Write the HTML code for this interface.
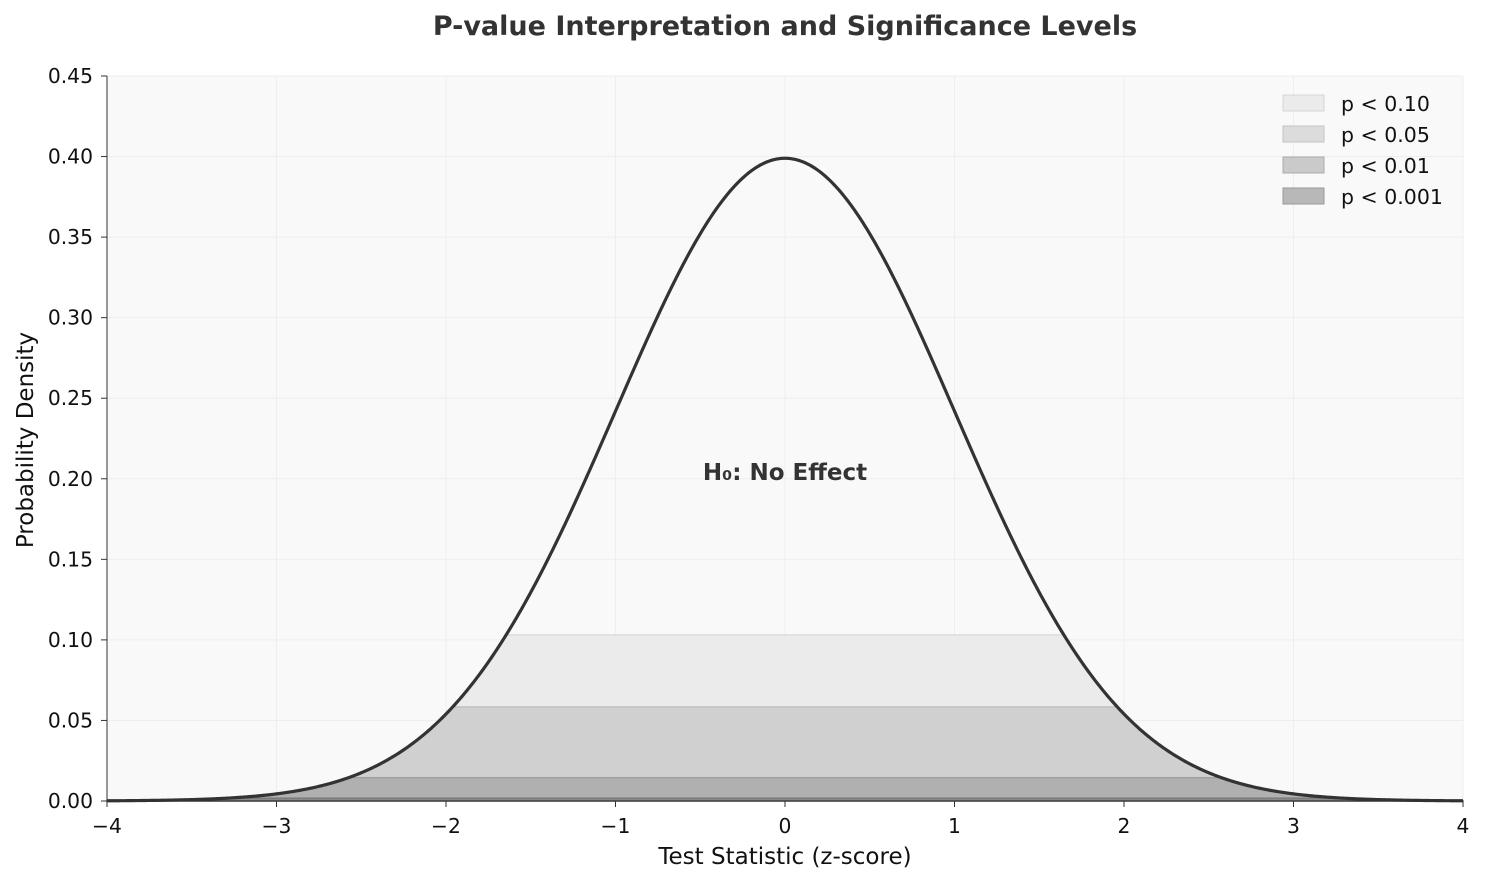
<!DOCTYPE html>
<html><head><meta charset="utf-8"><style>
html,body{margin:0;padding:0;background:#fff;}
svg text{font-family:"DejaVu Sans","Liberation Sans",sans-serif;fill:#111;}
</style></head><body>
<svg id="s" width="1485" height="883" viewBox="0 0 1485 883" xmlns="http://www.w3.org/2000/svg">
<rect x="0" y="0" width="1485" height="883" fill="#fff"/>
<rect x="107" y="76" width="1356" height="725" fill="#f9f9f9"/>
<g id="grid" stroke="#eeeeee" stroke-width="1"></g>
<g id="bands"></g>
<path id="curve" fill="none" stroke="#333" stroke-width="3.2"/>
<line x1="107" y1="76" x2="107" y2="801" stroke="#333" stroke-width="1"/>
<line x1="107" y1="801" x2="1463" y2="801" stroke="#333" stroke-width="1.2"/>
<g id="ticks" stroke="#333" stroke-width="1"></g>
<g id="labels" font-size="20.3"></g>
<text x="785" y="35" text-anchor="middle" font-size="27" font-weight="bold" style="fill:#333">P-value Interpretation and Significance Levels</text>
<text x="785" y="864" text-anchor="middle" font-size="23">Test Statistic (z-score)</text>
<text transform="translate(33,440) rotate(-90)" text-anchor="middle" font-size="23">Probability Density</text>
<text x="785" y="480" text-anchor="middle" font-size="23" font-weight="bold" style="fill:#333">H₀: No Effect</text>
<g font-size="20.5">
<rect x="1283" y="95" width="41" height="16" fill="#ebebeb" stroke="#d5d5d5"/>
<text x="1341" y="111">p &lt; 0.10</text>
<rect x="1283" y="126" width="41" height="16" fill="#dcdcdc" stroke="#c2c2c2"/>
<text x="1341" y="142">p &lt; 0.05</text>
<rect x="1283" y="157" width="41" height="16" fill="#cacaca" stroke="#aaaaaa"/>
<text x="1341" y="173">p &lt; 0.01</text>
<rect x="1283" y="188" width="41" height="16" fill="#b8b8b8" stroke="#999"/>
<text x="1341" y="204">p &lt; 0.001</text>
</g>
</svg>
<script>
(function(){
var NS="http://www.w3.org/2000/svg";
function X(v){return 785+v*169.5;}
function Y(v){return 801-v*1611.1;}
function pdf(z){return Math.exp(-z*z/2)/Math.sqrt(2*Math.PI);}
function el(t,a,p){var e=document.createElementNS(NS,t);for(var k in a)e.setAttribute(k,a[k]);if(p)p.appendChild(e);return e;}
var g=document.getElementById('grid'),tk=document.getElementById('ticks'),lb=document.getElementById('labels');
for(var i=-4;i<=4;i++){var x=X(i);el('line',{x1:x,y1:76,x2:x,y2:801},g);
el('line',{x1:x,y1:801,x2:x,y2:807},tk);
var t=el('text',{x:x,y:833,'text-anchor':'middle'},lb);t.textContent=(i<0?'\u2212'+(-i):''+i);}
for(var j=0;j<=9;j++){var v=j*0.05,y=Y(v);el('line',{x1:107,y1:y,x2:1463,y2:y},g);
el('line',{x1:101,y1:y,x2:107,y2:y},tk);
var t2=el('text',{x:93,y:y+7,'text-anchor':'end'},lb);t2.textContent=v.toFixed(2);}
var levels=[[1.645,'#ebebeb','#d8d8d8'],[1.96,'#d0d0d0','#bcbcbc'],[2.576,'#b0b0b0','#999'],[3.29,'#8a8a8a','#777']];
var b=document.getElementById('bands');
levels.forEach(function(L){var cap=pdf(L[0]);var d='M'+X(-4)+','+Y(0);
for(var k=0;k<=800;k++){var z=-4+k*0.01;d+=' L'+X(z).toFixed(2)+','+Y(Math.min(pdf(z),cap)).toFixed(2);}
d+=' L'+X(4)+','+Y(0)+' Z';el('path',{d:d,fill:L[1],stroke:L[2],'stroke-width':1.2},b);});
var d='';for(var k=0;k<=800;k++){var z=-4+k*0.01;d+=(k?' L':'M')+X(z).toFixed(2)+','+Y(pdf(z)).toFixed(2);}
document.getElementById('curve').setAttribute('d',d);
})();
</script>
</body></html>
